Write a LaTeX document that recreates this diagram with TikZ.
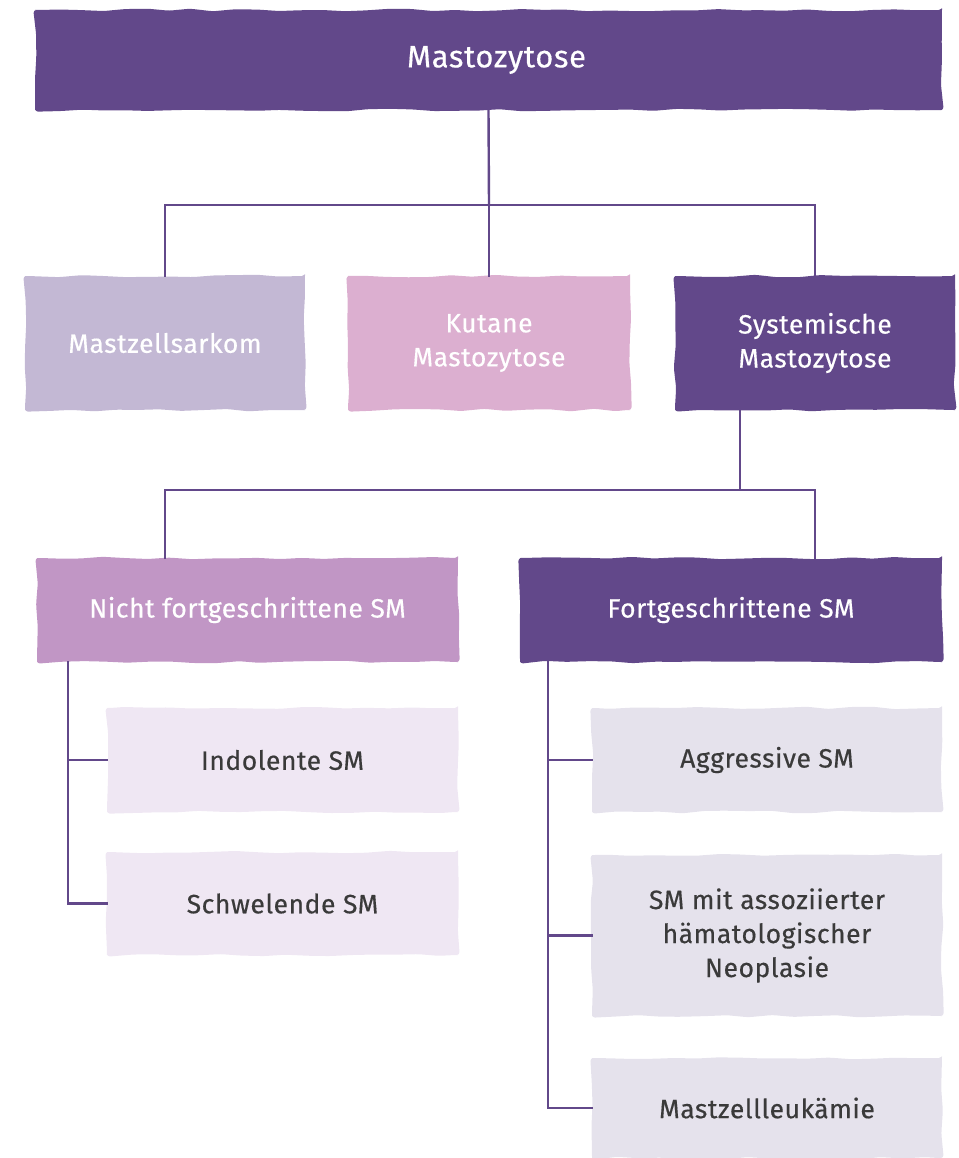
\documentclass[tikz,border=0pt]{standalone}
\usepackage{fontspec}
\setmainfont{Fira Sans}[LetterSpace=2, FakeBold=0.4]
\usetikzlibrary{decorations.pathmorphing}

\definecolor{lila}{HTML}{62488A}
\definecolor{lavendel}{HTML}{C3B8D4}
\definecolor{rosa}{HTML}{DCAFD0}
\definecolor{mauve}{HTML}{C196C5}
\definecolor{hellrosa}{HTML}{EFE7F3}
\definecolor{hellgrau}{HTML}{E5E2EC}
\definecolor{schrift}{HTML}{3A3A3A}

\tikzset{
  kasten/.style={rectangle, inner sep=0pt, align=center, font=\fontsize{26.5}{34}\selectfont,
    decorate, decoration={random steps, segment length=22pt, amplitude=1.3pt}, rounded corners=3pt},
  dunkel/.style={kasten, fill=lila, text=white},
  hell/.style={kasten, text=schrift},
  linie/.style={draw=lila, line width=2.4pt}
}

\begin{document}
\pgfmathsetseed{7}
\begin{tikzpicture}[x=1pt,y=-1pt,line cap=rect,line join=miter]
		\useasboundingbox (0,0) rectangle (958,1158);
		% Ebene 1
		\node[dunkel, minimum width=907pt, minimum height=100pt, font=\fontsize{31}{34}\selectfont] (top) at (488.5,60) {\hspace*{16pt}Mastozytose};
		% Ebene 2
		\node[kasten, fill=lavendel, text=white, minimum width=280pt, minimum height=134pt] (sarkom) at (165,343) {Mastzellsarkom};
		\node[kasten, fill=rosa, text=white, minimum width=282pt, minimum height=134pt] (kutan) at (489,343) {Kutane\\Mastozytose};
		\node[dunkel, minimum width=280pt, minimum height=134pt] (system) at (815,343) {Systemische\\Mastozytose};
		% Ebene 3
		\node[kasten, fill=mauve, text=white, minimum width=421pt, minimum height=104pt] (nicht) at (247.5,610) {Nicht fortgeschrittene SM};
		\node[dunkel, minimum width=422pt, minimum height=104pt] (fort) at (731,610) {Fortgeschrittene SM};
		% Ebene 4
		\node[hell, fill=hellrosa, minimum width=351pt, minimum height=104pt] (indol) at (282.5,760) {Indolente SM};
		\node[hell, fill=hellrosa, minimum width=351pt, minimum height=103pt] (schwel) at (282.5,903.5) {Schwelende SM};
		\node[hell, fill=hellgrau, minimum width=350pt, minimum height=104pt] (aggr) at (767,760) {Aggressive SM};
		\node[hell, fill=hellgrau, minimum width=350pt, minimum height=161pt] (assoz) at (767,935.5) {SM mit assoziierter\\hämatologischer\\Neoplasie};
		\node[hell, fill=hellgrau, minimum width=350pt, minimum height=100pt] (leuk) at (767,1108) {Mastzellleukämie};

		% Verbindungen oben
		\coordinate (j1) at (489,205);
		\coordinate (j2) at (740,490);
		\coordinate (links) at (165,490);
		\coordinate (rechts) at (815,490);
		\coordinate (astL) at (68,0);
		\coordinate (astR) at (548,0);
		\draw[linie] (top.south) -- (j1);
		\draw[linie] (sarkom.north) |- (system.north |- j1) -- (system.north);
		\draw[linie] (j1) -- (kutan.north);
		% Verbindungen Mitte
		\draw[linie] (j2 |- system.south) -- (j2);
		\draw[linie] (links |- nicht.north) -- (links) -- (rechts) -- (rechts |- fort.north);
		% Verbindungen unten
		\draw[linie] (astL |- nicht.south) |- (schwel.west);
		\draw[linie] (astL |- indol.west) -- (indol.west);
		\draw[linie] (astR |- fort.south) |- (leuk.west);
		\draw[linie] (astR |- aggr.west) -- (aggr.west);
		\draw[linie] (astR |- assoz.west) -- (assoz.west);
\end{tikzpicture}
\end{document}
